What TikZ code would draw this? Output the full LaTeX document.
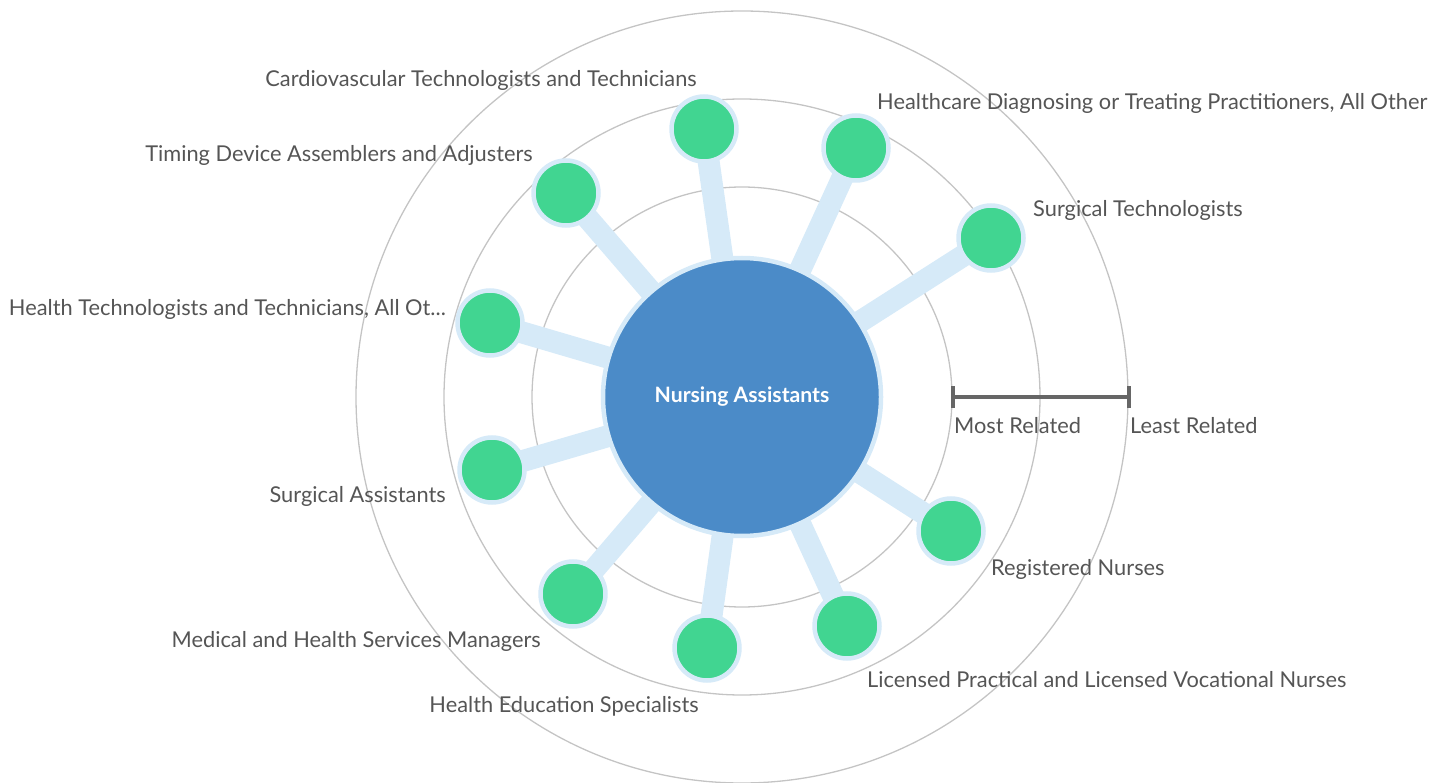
\documentclass[tikz,border=0pt]{standalone}
\usepackage{fontspec}
\setmainfont{Lato}
\definecolor{ringgray}{HTML}{C4C4C4}
\definecolor{spoke}{HTML}{D6EAF8}
\definecolor{hubblue}{HTML}{4B8BC8}
\definecolor{leaf}{HTML}{41D591}
\definecolor{txt}{HTML}{555555}
\definecolor{bar}{HTML}{666666}
\tikzset{
  ring/.style={draw=ringgray, line width=1.3pt},
  spk/.style={draw=spoke, line width=22pt},
  leafnode/.style={circle, fill=leaf, draw=spoke, line width=4.5pt, minimum size=65pt, inner sep=0pt},
  hubnode/.style={circle, fill=hubblue, draw=spoke, line width=4.5pt, minimum size=278pt, inner sep=0pt, text=white, font=\fontsize{21.2}{25}\selectfont\bfseries},
  lbl/.style={text=txt, font=\fontsize{21.8}{26}\selectfont, inner sep=0pt},
  barline/.style={draw=bar, line width=4pt},
}
\begin{document}
\begin{tikzpicture}[x=1pt,y=-1pt]
\useasboundingbox (0,0) rectangle (1430,783);
\coordinate (c) at (742,397);
\draw[ring] (c) circle (210);
\draw[ring] (c) circle (298);
\draw[ring] (c) circle (386);
% leaf positions
\coordinate (p1) at (704,129);
\coordinate (p2) at (856,148);
\coordinate (p3) at (991,238);
\coordinate (p4) at (566,193);
\coordinate (p5) at (490,323);
\coordinate (p6) at (492,470);
\coordinate (p7) at (573,594);
\coordinate (p8) at (707,648);
\coordinate (p9) at (847,626);
\coordinate (p10) at (951,531);
\foreach \i in {1,...,10} \draw[spk] (c) -- (p\i);
\node[hubnode] (hub) at (c) {Nursing Assistants};
\foreach \i in {1,...,10} \node[leafnode] (n\i) at (p\i) {};
% labels
\node[lbl, anchor=base east] (l1) at (697,87) {Cardiovascular Technologists and Technicians};
\node[lbl, anchor=base west] (l2) at (877,110) {Healthcare Diagnosing or Treating Practitioners, All Other};
\node[lbl, anchor=base west] (l3) at (1033,217) {Surgical Technologists};
\node[lbl, anchor=base east] (l4) at (533,162) {Timing Device Assemblers and Adjusters};
\node[lbl, anchor=base east] (l5) at (446,316) {Health Technologists and Technicians, All Ot...};
\node[lbl, anchor=base east] (l6) at (446,502) {Surgical Assistants};
\node[lbl, anchor=base east] (l7) at (541,647) {Medical and Health Services Managers};
\node[lbl, anchor=base east] (l8) at (699,712) {Health Education Specialists};
\node[lbl, anchor=base west] (l9) at (867,687) {Licensed Practical and Licensed Vocational Nurses};
\node[lbl, anchor=base west] (l10) at (991,575) {Registered Nurses};
% scale bar
\coordinate (b1) at (953,397);
\coordinate (b2) at (1129,397);
\draw[barline] (b1) -- (b2);
\draw[barline] ([yshift=-11pt]b1) -- ([yshift=11pt]b1);
\draw[barline] ([yshift=-11pt]b2) -- ([yshift=11pt]b2);
\node[lbl, anchor=base west] (most) at (954,434) {Most Related};
\node[lbl, anchor=base west] (least) at (1130,434) {Least Related};
\end{tikzpicture}
\end{document}
